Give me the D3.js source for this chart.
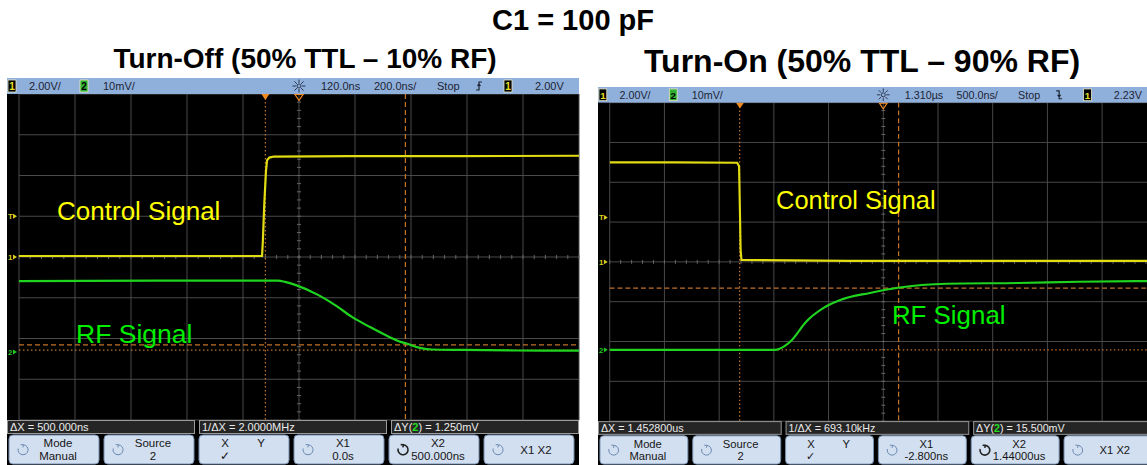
<!DOCTYPE html>
<html>
<head>
<meta charset="utf-8">
<script src="https://cdn.jsdelivr.net/npm/d3@7"></script>
<style>
body { margin: 0; background: #fff; }
svg { display: block; }
text { font-family: "Liberation Sans", Arial, sans-serif; }
</style>
</head>
<body>
<svg width="1147" height="465"></svg>
<script>
var svg = d3.select("svg");

// ---- values read off the two scope screens ----
// turn-off: control (V, ch1) and RF detector (mV, ch2), time in ns
var offCtrlT = [-880, -400, -12, -9, -4, 2, 6, 14, 30, 300, 700, 1120];
var offCtrlV = [0.05, 0.05, 0.05, 0.8, 2.6, 4.2, 4.75, 4.88, 4.93, 4.95, 4.95, 4.97];
var offRfT = [-880, -400, 45, 70, 109, 188, 249, 309, 374, 427, 474, 506, 552, 595, 706, 900, 1120];
var offRfV = [17.4, 17.5, 17.5, 17.2, 16.4, 14.0, 11.5, 8.6, 6.1, 4.2, 2.7, 2.0, 1.0, 0.6, 0.5, 0.35, 0.3];

// turn-on
var onCtrlT = [-1190, -600, -25, -8, 0, 6, 14, 1000, 3810];
var onCtrlV = [5.0, 5.0, 4.98, 4.8, 2.5, 0.6, 0.1, 0.05, 0.05];
var onRfT = [-1190, 0, 320, 411, 475, 603, 768, 923, 1188, 1444, 1892, 2541, 3100, 3810];
var onRfV = [0.0, 0.0, 0.0, 1.0, 2.5, 7.0, 10.6, 12.6, 14.3, 15.6, 16.6, 16.8, 17.1, 17.3];

// header / readout / softkey labels
var offHeader = ["2.00V/", "10mV/", "120.0ns", "200.0ns/", "Stop", "2.00V"];
var onHeader = ["2.00V/", "10mV/", "1.310µs", "500.0ns/", "Stop", "2.23V"];
var offReadout = ["ΔX = 500.000ns", "1/ΔX = 2.0000MHz", "1.250mV"];
var onReadout = ["ΔX = 1.452800us", "1/ΔX = 693.10kHz", "15.500mV"];
var offKeys = [["Mode", "Manual"], ["Source", "2"], ["X", "Y"], ["X1", "0.0s"], ["X2", "500.000ns"], ["X1 X2"]];
var onKeys = [["Mode", "Manual"], ["Source", "2"], ["X", "Y"], ["X1", "-2.800ns"], ["X2", "1.44000us"], ["X1 X2"]];

var scopes = [
  { px: 7, py: 78, k: 1, tdiv: 200, delay: 120, v1: 2, v2: 10, ch2pos: -2.33,
    trig: 2.0, rise: true, x1: 0, x2: 500, y1c: 0.47, y2c: 1.72,
    ctrlT: offCtrlT, ctrlV: offCtrlV, rfT: offRfT, rfV: offRfV,
    header: offHeader, readout: offReadout, keys: offKeys,
    ctrlLab: [-744, 1.82], rfLab: [-676, 2.2] },
  { px: 598, py: 87, k: 0.977, tdiv: 500, delay: 1310, v1: 2, v2: 10, ch2pos: -2.21,
    trig: 2.23, rise: false, x1: -2.8, x2: 1450, y1c: 0, y2c: 15.5,
    ctrlT: onCtrlT, ctrlV: onCtrlV, rfT: onRfT, rfV: onRfV,
    header: onHeader, readout: onReadout, keys: onKeys,
    ctrlLab: [330, 2.66], rfLab: [1389, 6.5] }
];

// ---- titles ----
svg.append("text").attr("x", 573).attr("y", 30).attr("text-anchor", "middle")
  .style("font-size", "29px").style("font-weight", "bold").text("C1 = 100 pF");
svg.append("text").attr("x", 305).attr("y", 68).attr("text-anchor", "middle")
  .style("font-size", "28px").style("font-weight", "bold").text("Turn-Off (50% TTL – 10% RF)");
svg.append("text").attr("x", 862).attr("y", 72).attr("text-anchor", "middle")
  .style("font-size", "32px").style("font-weight", "bold").text("Turn-On (50% TTL – 90% RF)");

var W = 572, H = 387, pTop = 16, ydiv = 40.75, pLeft = 12, xdiv = 56;
var pBottom = pTop + 8 * ydiv;
var cursorCol = "#c0702a";

scopes.forEach(function(s, si) {
  var g = svg.append("g")
    .attr("transform", "translate(" + s.px + "," + s.py + ") scale(" + s.k + ")");

  g.append("rect").attr("width", W).attr("height", H).attr("fill", "#000");

  var x = d3.scaleLinear()
    .domain([s.delay - 5 * s.tdiv, s.delay + 5 * s.tdiv])
    .range([pLeft, pLeft + 10 * xdiv]);
  var y1 = d3.scaleLinear().domain([-4 * s.v1, 4 * s.v1]).range([pBottom, pTop]);
  var y2 = d3.scaleLinear()
    .domain([(-4 - s.ch2pos) * s.v2, (4 - s.ch2pos) * s.v2])
    .range([pBottom, pTop]);

  // grid
  var grid = g.append("g").attr("stroke", "#4a4a4a").attr("stroke-width", 1);
  grid.selectAll(".gv").data(d3.range(11)).enter().append("line")
    .attr("x1", function(i) { return x(x.domain()[0] + i * s.tdiv); })
    .attr("x2", function(i) { return x(x.domain()[0] + i * s.tdiv); })
    .attr("y1", pTop).attr("y2", pBottom);
  grid.selectAll(".gh").data(d3.range(9)).enter().append("line")
    .attr("x1", pLeft).attr("x2", pLeft + 10 * xdiv)
    .attr("y1", function(i) { return y1(-4 * s.v1 + i * s.v1); })
    .attr("y2", function(i) { return y1(-4 * s.v1 + i * s.v1); });
  // minor ticks on the centre lines
  var cx = x(s.delay), cy = y1(0);
  grid.selectAll(".mx").data(d3.range(51)).enter().append("line")
    .attr("stroke", "#666")
    .attr("x1", function(i) { return x(x.domain()[0] + i * s.tdiv / 5); })
    .attr("x2", function(i) { return x(x.domain()[0] + i * s.tdiv / 5); })
    .attr("y1", cy - 2).attr("y2", cy + 2);
  grid.selectAll(".my").data(d3.range(41)).enter().append("line")
    .attr("stroke", "#666")
    .attr("y1", function(i) { return y1(-4 * s.v1 + i * s.v1 / 5); })
    .attr("y2", function(i) { return y1(-4 * s.v1 + i * s.v1 / 5); })
    .attr("x1", cx - 2).attr("x2", cx + 2);

  // cursors
  var cur = g.append("g").attr("stroke", cursorCol).attr("stroke-width", 1.3);
  cur.append("line").attr("x1", x(s.x1)).attr("x2", x(s.x1)).attr("y1", pTop).attr("y2", pBottom)
    .attr("stroke-dasharray", "1.5,2.5");
  cur.append("line").attr("x1", x(s.x2)).attr("x2", x(s.x2)).attr("y1", pTop).attr("y2", pBottom)
    .attr("stroke-dasharray", "5,3");
  cur.append("line").attr("x1", pLeft).attr("x2", W).attr("y1", y2(s.y1c)).attr("y2", y2(s.y1c))
    .attr("stroke-dasharray", "1.5,2.5");
  cur.append("line").attr("x1", pLeft).attr("x2", W).attr("y1", y2(s.y2c)).attr("y2", y2(s.y2c))
    .attr("stroke-dasharray", "5,3");

  // traces
  g.append("clipPath").attr("id", "clip" + si).append("rect")
    .attr("x", pLeft).attr("y", pTop).attr("width", W - pLeft).attr("height", pBottom - pTop);
  var traces = g.append("g").attr("clip-path", "url(#clip" + si + ")").attr("fill", "none");
  traces.append("path")
    .datum(d3.zip(s.ctrlT, s.ctrlV))
    .attr("stroke", "#e2dc12").attr("stroke-width", 2.2)
    .attr("d", d3.line().x(function(d) { return x(d[0]); }).y(function(d) { return y1(d[1]); }));
  traces.append("path")
    .datum(d3.zip(s.rfT, s.rfV))
    .attr("stroke", "#1fd41f").attr("stroke-width", 2.2)
    .attr("d", d3.line().curve(d3.curveMonotoneX)
      .x(function(d) { return x(d[0]); }).y(function(d) { return y2(d[1]); }));

  // labels
  g.append("text").attr("x", x(s.ctrlLab[0])).attr("y", y1(s.ctrlLab[1]))
    .attr("fill", "#ffff00").style("font-size", "26px").text("Control Signal");
  g.append("text").attr("x", x(s.rfLab[0])).attr("y", y2(s.rfLab[1]))
    .attr("fill", "#00ee00").style("font-size", "26.5px").text("RF Signal");

  // left-edge markers
  function marker(yy, col, label) {
    g.append("text").attr("x", 1).attr("y", yy + 3).attr("fill", col)
      .style("font-size", "8px").style("font-weight", "bold").text(label);
    g.append("path").attr("d", "M6," + (yy - 2.5) + "L10," + yy + "L6," + (yy + 2.5) + "Z").attr("fill", col);
  }
  marker(y1(s.trig), "#d8d020", "T");
  marker(y1(0), "#d8d020", "1");
  marker(y2(0), "#22c822", "2");

  // top markers: trigger point and delay reference
  g.append("path").attr("fill", "#f08a20")
    .attr("d", "M" + (x(0) - 4) + "," + pTop + "h8l-4,6z");
  g.append("path").attr("fill", "none").attr("stroke", "#f08a20").attr("stroke-width", 1.2)
    .attr("d", "M" + (cx - 4) + "," + (pTop + 0.5) + "h8l-4,6z");

  // header bar
  g.append("rect").attr("width", W).attr("height", pTop).attr("fill", "#90b0dc");
  var hx = [22, 96, 314, 367, 430, 528];
  g.selectAll(".ht").data(s.header).enter().append("text")
    .attr("x", function(d, i) { return hx[i]; }).attr("y", 12)
    .attr("fill", "#1c2433").style("font-size", "11px").text(function(d) { return d; });
  function chBox(bx, fill, col, n) {
    g.append("rect").attr("x", bx).attr("y", 2).attr("width", 8).attr("height", 12)
      .attr("fill", fill).attr("stroke", "#e8e8c0").attr("stroke-width", 0.8);
    g.append("text").attr("x", bx + 4).attr("y", 12).attr("text-anchor", "middle")
      .attr("fill", col).style("font-size", "10px").style("font-weight", "bold").text(n);
  }
  chBox(1, "#000", "#e8e020", "1");
  chBox(73, "#30b030", "#000", "2");
  chBox(497, "#000", "#e8e020", "1");
  // sun icon (acquisition)
  var sun = g.append("g").attr("transform", "translate(" + cx + ",8)")
    .attr("stroke", "#2d3850").attr("stroke-width", 1);
  d3.range(8).forEach(function(i) {
    var a = i * Math.PI / 4;
    sun.append("line").attr("x1", 3 * Math.cos(a)).attr("y1", 3 * Math.sin(a))
      .attr("x2", 6.5 * Math.cos(a)).attr("y2", 6.5 * Math.sin(a));
  });
  sun.append("circle").attr("r", 2).attr("fill", "none");
  // trigger edge symbol
  g.append("path").attr("fill", "none").attr("stroke", "#1c2433").attr("stroke-width", 1.2)
    .attr("d", s.rise ? "M469,12h3v-8h3M470.5,8l1.5,-2l1.5,2" : "M469,4h3v8h3M470.5,8l1.5,2l1.5,-2");

  // readout row
  var rY = pBottom, rH = 14;
  var rx = [0, 192, 384];
  g.selectAll(".rb").data(s.readout).enter().append("rect")
    .attr("x", function(d, i) { return rx[i] + 0.5; }).attr("y", rY + 0.5)
    .attr("width", 187).attr("height", rH - 1)
    .attr("fill", "#252525").attr("stroke", "#9a9a9a");
  var rt = g.selectAll(".rt").data(s.readout).enter().append("text")
    .attr("x", function(d, i) { return rx[i] + 3; }).attr("y", rY + 11)
    .attr("fill", "#ececec").style("font-size", "11px");
  rt.each(function(d, i) {
    var t = d3.select(this);
    if (i == 2) {
      t.append("tspan").text("ΔY(");
      t.append("tspan").attr("fill", "#22dd22").style("font-weight", "bold").text("2");
      t.append("tspan").text(") = " + d);
    } else {
      t.text(d);
    }
  });

  // softkeys
  var kY = rY + rH + 1, kH = 29;
  var keys = g.selectAll(".key").data(s.keys).enter().append("g")
    .attr("transform", function(d, i) { return "translate(" + (2 + i * 95) + "," + kY + ")"; });
  keys.append("rect").attr("width", 90).attr("height", kH).attr("rx", 4)
    .attr("fill", "#d2dff0").attr("stroke", "#7890b0");
  keys.each(function(d, i) {
    var k = d3.select(this);
    if (i != 2) {
      k.append("path").attr("fill", "none").attr("stroke", i == 4 ? "#222" : "#6a88b0")
        .attr("stroke-width", i == 4 ? 1.6 : 1)
        .attr("d", "M14.5,9.8A5,5 0 1 1 9.2,13.5M14.5,9.8l-2.8,-0.2M14.5,9.8l-0.6,2.6");
    }
    var tc = k.append("g").attr("fill", "#151515").style("font-size", "11.5px").attr("text-anchor", "middle");
    if (i == 2) {
      tc.append("text").attr("x", 26).attr("y", 12).text(d[0]);
      tc.append("text").attr("x", 62).attr("y", 12).text(d[1]);
      tc.append("text").attr("x", 26).attr("y", 25).text("✓");
    } else if (d.length == 1) {
      tc.append("text").attr("x", 52).attr("y", 19).text(d[0]);
    } else {
      tc.append("text").attr("x", 49).attr("y", 12).text(d[0]);
      tc.append("text").attr("x", 49).attr("y", 25).text(d[1]);
    }
  });
});
</script>
</body>
</html>
